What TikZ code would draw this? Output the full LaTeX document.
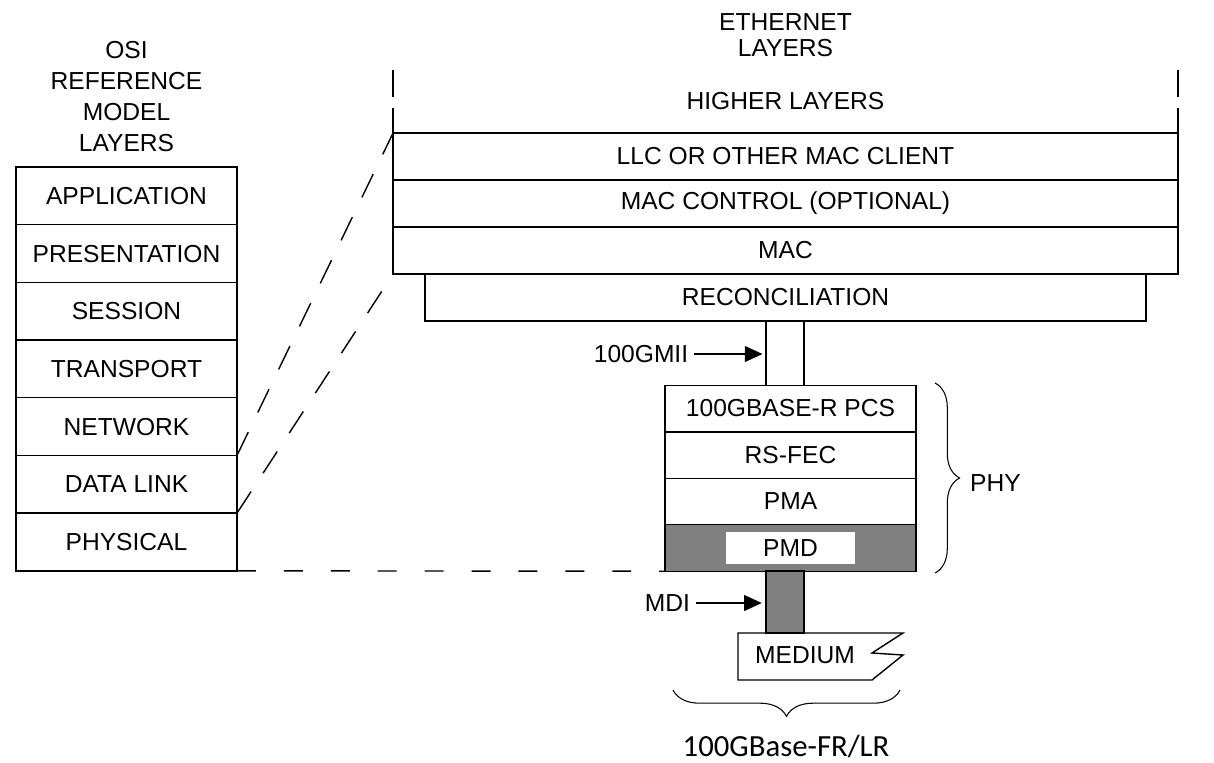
\documentclass[tikz,border=0pt]{standalone}
\usepackage{fontspec}
\setmainfont{Liberation Sans}
\newfontfamily\calibri{Carlito}
\usepackage{tikz}
\usetikzlibrary{arrows.meta}
\usetikzlibrary{calc}
\usetikzlibrary{positioning}
\usetikzlibrary{decorations.pathreplacing}

\tikzset{
  layer/.style={draw, line width=0.8pt, inner sep=0pt, outer sep=0pt, font=\fontsize{14}{16}\selectfont},
  osi/.style={layer, minimum width=4.42cm, minimum height=1.154cm},
  eth/.style={layer, minimum width=15.7cm, minimum height=0.94cm},
  phy/.style={layer, minimum width=5.02cm, minimum height=0.93cm},
  lbl/.style={font=\fontsize{14}{16}\selectfont},
  pointer/.style={-{Triangle[length=10pt,width=9pt]}, line width=0.8pt},
  link/.style={dash pattern=on 14.7pt off 12.5pt, line width=0.8pt},
  curly/.style={decorate, line width=0.6pt},
}

\begin{document}
\begin{tikzpicture}[x=0.02cm, y=-0.02cm] % px grid
  \useasboundingbox (0,0) rectangle (1214,762);

  % OSI side
  \node[lbl, align=center, font=\fontsize{14}{17.6}\selectfont] (osititle) at (126.5,96.5) {OSI\\REFERENCE\\MODEL\\LAYERS};
  \node[osi] (app) at (126.5,195.85) {APPLICATION};
  \node[osi, below=0pt of app] (pres) {PRESENTATION};
  \node[osi, below=0pt of pres] (sess) {SESSION};
  \node[osi, below=0pt of sess] (trans) {TRANSPORT};
  \node[osi, below=0pt of trans] (net) {NETWORK};
  \node[osi, below=0pt of net] (dl) {DATA LINK};
  \node[osi, below=0pt of dl] (phys) {PHYSICAL};

  % Ethernet side
  \node[lbl, align=center, font=\fontsize{14}{14.7}\selectfont] (ethtitle) at (785.5,35) {ETHERNET\\LAYERS};
  \node[lbl, minimum width=15.7cm, minimum height=1.26cm, inner sep=0pt, outer sep=0pt] (higher) at (785.5,101.5) {HIGHER LAYERS};
  \node[eth, below=0pt of higher] (llc) {LLC OR OTHER MAC CLIENT};
  \node[eth, below=0pt of llc] (macctl) {MAC CONTROL (OPTIONAL)};
  \node[eth, below=0pt of macctl] (mac) {MAC};
  \node[layer, minimum width=14.42cm, minimum height=0.94cm, below=0pt of mac] (recon) {RECONCILIATION};
  \draw[line width=0.8pt, dash pattern=on 15.3pt off 6.2pt] (higher.north west) -- (higher.south west);
  \draw[line width=0.8pt, dash pattern=on 15.3pt off 6.2pt] (higher.north east) -- (higher.south east);

  % PHY stack
  \node[phy] (pcs) at (790.5,408.5) {100GBASE-R PCS};
  \node[phy, below=0pt of pcs] (fec) {RS-FEC};
  \node[phy, below=0pt of fec] (pma) {PMA};
  \node[phy, fill=gray, below=0pt of pma] (pmd) {};
  \node[lbl, fill=white, minimum width=2.58cm, minimum height=0.64cm, inner sep=0pt] (pmdtxt) at (pmd) {PMD};
  \draw[line width=1.3pt] (pcs.south west) -- (pcs.south east);

  % 100GMII
  \coordinate (gl) at (766,0);
  \coordinate (gr) at (804,0);
  \draw[line width=0.8pt] (recon.south -| gl) -- (pcs.north -| gl) (recon.south -| gr) -- (pcs.north -| gr);
  \node[lbl] (gmii) at (641,354) {100GMII};
  \draw[pointer, shorten >=2pt] (gmii.east) -- (gmii.east -| gl);

  % MDI and medium
  \node[draw, fill=gray, line width=0.8pt, minimum width=0.76cm, minimum height=1.24cm, inner sep=0pt] (mdibar) at (785,602) {};
  \node[lbl] (mdi) at (667.5,603) {MDI};
  \draw[pointer, shorten >=2pt] (mdi.east) -- (mdi.east -| mdibar.west);
  \draw[line width=0.8pt] (738,633) -- (903,633) -- (872,653) -- (903,655) -- (872,680) -- (738,680) -- cycle;
  \node[lbl] (medium) at (805,655) {MEDIUM};

  % mapping lines
  \draw[link] (net.south east) -- (llc.north west);
  \draw[link] (dl.south east) -- (mac.south west);
  \draw[line width=0.8pt, dash pattern=on 10.8pt off 15.9pt] (phys.south east) -- (pmd.south west);

  % braces
  \draw[curly, decoration={brace, amplitude=14pt}] (935,383) -- (935,573);
  \node[lbl, anchor=west] (phy) at (964,483) {PHY};
  \draw[curly, decoration={brace, amplitude=15pt}] (900,690) -- (673,690);
  \node[font=\calibri\fontsize{17.5}{20}\selectfont] (frlr) at (786,746) {100GBase-FR/LR};

\end{tikzpicture}
\end{document}
